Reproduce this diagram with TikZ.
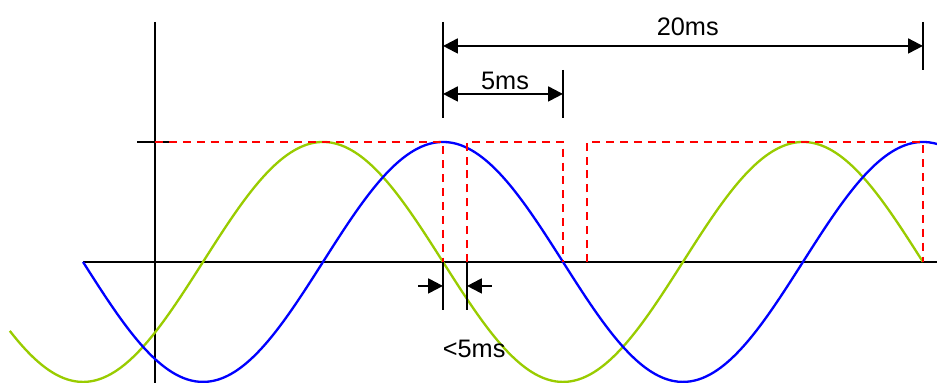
\documentclass[tikz,border=0pt]{standalone}
\usepackage{fontspec}
\setmainfont{Liberation Sans}
\usetikzlibrary{arrows.meta, positioning}
\definecolor{waveBlue}{HTML}{0000FF}
\definecolor{waveGreen}{HTML}{99CC00}
\definecolor{pulseRed}{HTML}{FF0000}

\begin{document}
\begin{tikzpicture}[x=2cm, y=2cm,
  axis/.style={line width=1pt, black},
  wave/.style={line width=1.1pt, smooth, samples=200},
  pulse/.style={pulseRed, line width=1pt, dash pattern=on 3.8pt off 2.8pt},
  dimline/.style={{Triangle[length=7pt, width=7pt]}-{Triangle[length=7pt, width=7pt]},
                  line width=1pt},
  gapline/.style={-{Triangle[length=7pt, width=7pt]}, line width=1pt},
  lbl/.style={font=\fontsize{12}{14}\selectfont, anchor=base, inner sep=0pt}]
  \useasboundingbox (-3.692,-1.008) rectangle (4.117,2.183);
  \begin{scope}
    \clip (-3.692,-1.008) rectangle (4.117,2.183);
    % axes
    \draw[axis] (-2.4,2.0) -- (-2.4,-1.1);
    \draw[axis] (-3,0) -- (4.2,0);
    \draw[axis] (-2.55,1) -- (-2.258,1);
    % voltage waves
    \draw[wave, waveGreen, domain=-3.61:4] plot (\x, {cos(90*(\x+1))});
    \draw[wave, waveBlue, domain=-3:4.2] plot (\x, {cos(90*\x)});
    % switching pulses
    \draw[pulse] (-2.4,1) -- (0,1) -- (0,0);
    \draw[pulse] (0.2,0) -- (0.2,1) -- (1,1) -- (1,0);
    \draw[pulse] (1.2,0) -- (1.2,1) -- (4,1) -- (4,0);
  \end{scope}
  % period marks
  \draw[axis] (0,2.0) -- (0,1.2);
  \draw[axis] (1,1.6) -- (1,1.2);
  \draw[axis] (4,2.0) -- (4,1.6);
  \coordinate (p0)  at (0,1.8);
  \coordinate (p20) at (4,1.8);
  \coordinate (q0)  at (0,1.4);
  \coordinate (q5)  at (1,1.4);
  \draw[dimline] (p0) -- (p20);
  \draw[dimline] (q0) -- (q5);
  \node[lbl] (l20) at (2.04,1.89) {20ms};
  \node[lbl] (l5)  at (0.517,1.44) {5ms};
  % delay marks
  \draw[axis] (0,0) -- (0,-0.4);
  \draw[axis] (0.2,0) -- (0.2,-0.4);
  \coordinate (gl) at (-0.208,-0.2);
  \coordinate (g0) at (0,-0.2);
  \coordinate (gr) at (0.408,-0.2);
  \coordinate (g1) at (0.2,-0.2);
  \draw[gapline] (gl) -- (g0);
  \draw[gapline] (gr) -- (g1);
  \node[lbl] (ld) at (0.26,-0.8) {<5ms};
\end{tikzpicture}
\end{document}
